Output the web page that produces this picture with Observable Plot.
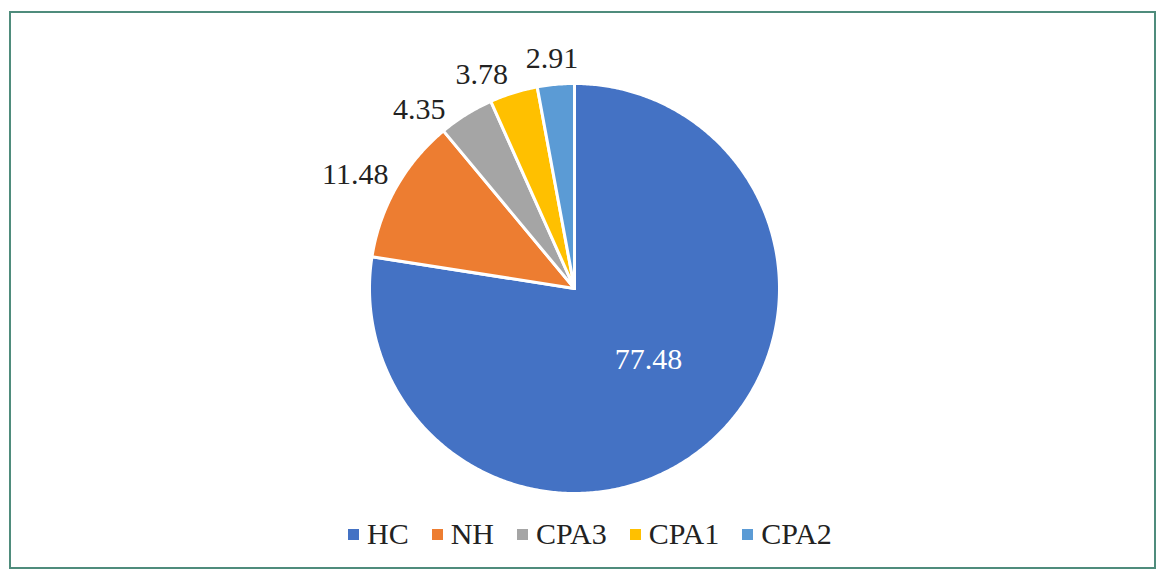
<!DOCTYPE html>
<html>
<head>
<meta charset="utf-8">
<script src="https://cdn.jsdelivr.net/npm/d3@7"></script>
<script src="https://cdn.jsdelivr.net/npm/@observablehq/plot@0.6"></script>
<style>
  html, body { margin: 0; padding: 0; background: #fff; }
  body { width: 1161px; height: 573px; position: relative; overflow: hidden; font-family: "Liberation Serif", "Times New Roman", serif; }
  #frame { position: absolute; left: 9px; top: 11px; width: 1147px; height: 558px; border: 2px solid #4f8c7c; box-sizing: border-box; }
  #chart { position: absolute; left: 0; top: 0; }
  #legend { position: absolute; left: 348px; top: 517px; display: flex; align-items: center; font-size: 30px; color: #222; white-space: nowrap; }
  .item { display: flex; align-items: center; margin-right: 23px; }
  .sw { width: 11px; height: 11px; margin-right: 8px; }
</style>
</head>
<body>
<div id="frame"></div>
<div id="chart"></div>
<div id="legend"></div>
<script>
// ---- data ----
const categories = ["HC", "NH", "CPA3", "CPA1", "CPA2"];
const values = [77.48, 11.48, 4.35, 3.78, 2.91];
const labels = ["77.48", "11.48", "4.35", "3.78", "2.91"];
const colors = ["#4472C4", "#ED7D31", "#A5A5A5", "#FFC000", "#5B9BD5"];

// ---- layout ----
const W = 1161, H = 505;
const mL = 369, mR = 382, mT = 83, mB = 12;
const R = (W - mL - mR) / 2; // pie radius in px
const fs = 30;
const font = `${fs}px "Liberation Serif", "Times New Roman", serif`;

const data = categories.map((c, i) => ({category: c, value: values[i], label: labels[i], color: colors[i]}));
const arcs = d3.pie().sort(null).value(d => d.value).startAngle(0).endAngle(2 * Math.PI)(data);

const pt = (a, r = 1) => [r * Math.sin(a), r * Math.cos(a)];
function wedge(a0, a1) {
  const n = Math.max(2, Math.ceil((a1 - a0) / (Math.PI / 360)));
  const ring = [[0, 0]];
  for (let k = 0; k <= n; k++) ring.push(pt(a0 + (a1 - a0) * k / n));
  ring.push([0, 0]);
  return ring;
}
const features = arcs.map(a => ({
  type: "Feature",
  properties: {category: a.data.category, color: a.data.color},
  geometry: {type: "Polygon", coordinates: [wedge(a.startAngle, a.endAngle)]}
}));
const circle = {type: "Polygon", coordinates: [wedge(0, 2 * Math.PI).slice(1, -1).concat([pt(0)])]};

const projection = d3.geoIdentity().reflectY(true).fitExtent([[mL, mT], [W - mR, H - mB]], circle);

// ---- label placement (Excel-like: inside for the big slice, outside end for the rest) ----
const ctx = document.createElement("canvas").getContext("2d");
ctx.font = font;
const minSep = 17 * Math.PI / 180;
const mids = arcs.map(a => (a.startAngle + a.endAngle) / 2);
const outside = arcs.map(a => (a.endAngle - a.startAngle) < Math.PI / 2);
const la = mids.slice();
for (let i = la.length - 2; i >= 0; i--) {
  if (outside[i] && outside[i + 1] && la[i + 1] - la[i] < minSep) la[i] = la[i + 1] - minSep;
}
const textMarks = arcs.map((a, i) => {
  const d = a.data;
  if (!outside[i]) {
    const [x, y] = pt(mids[i] - 0.1, 0.5);
    return Plot.text([d], {x: () => x, y: () => y, text: "label", fill: "white", fontSize: fs, fontFamily: "Liberation Serif", textAnchor: "middle", lineAnchor: "middle"});
  }
  const ang = la[i];
  const gap = 14 / R;
  const [x, y] = pt(ang, 1 + gap);
  const w = ctx.measureText(d.label).width;
  const h = fs * 0.8;
  const dx = Math.sin(ang) * w / 2;
  const dy = -Math.cos(ang) * h / 2;
  return Plot.text([d], {x: () => x, y: () => y, text: "label", fill: "#222", fontSize: fs, fontFamily: "Liberation Serif", textAnchor: "middle", lineAnchor: "middle", dx, dy});
});

const plot = Plot.plot({
  width: W,
  height: H,
  margin: 0,
  projection,
  style: {background: "transparent", overflow: "visible"},
  marks: [
    Plot.geo(features, {fill: d => d.properties.color, stroke: "white", strokeWidth: 3, strokeLinejoin: "round"}),
    ...textMarks
  ]
});
document.getElementById("chart").appendChild(plot);

// ---- legend ----
const legend = document.getElementById("legend");
data.forEach(d => {
  const item = document.createElement("div");
  item.className = "item";
  const sw = document.createElement("span");
  sw.className = "sw";
  sw.style.background = d.color;
  const t = document.createElement("span");
  t.textContent = d.category;
  item.appendChild(sw); item.appendChild(t);
  legend.appendChild(item);
});
</script>
</body>
</html>
